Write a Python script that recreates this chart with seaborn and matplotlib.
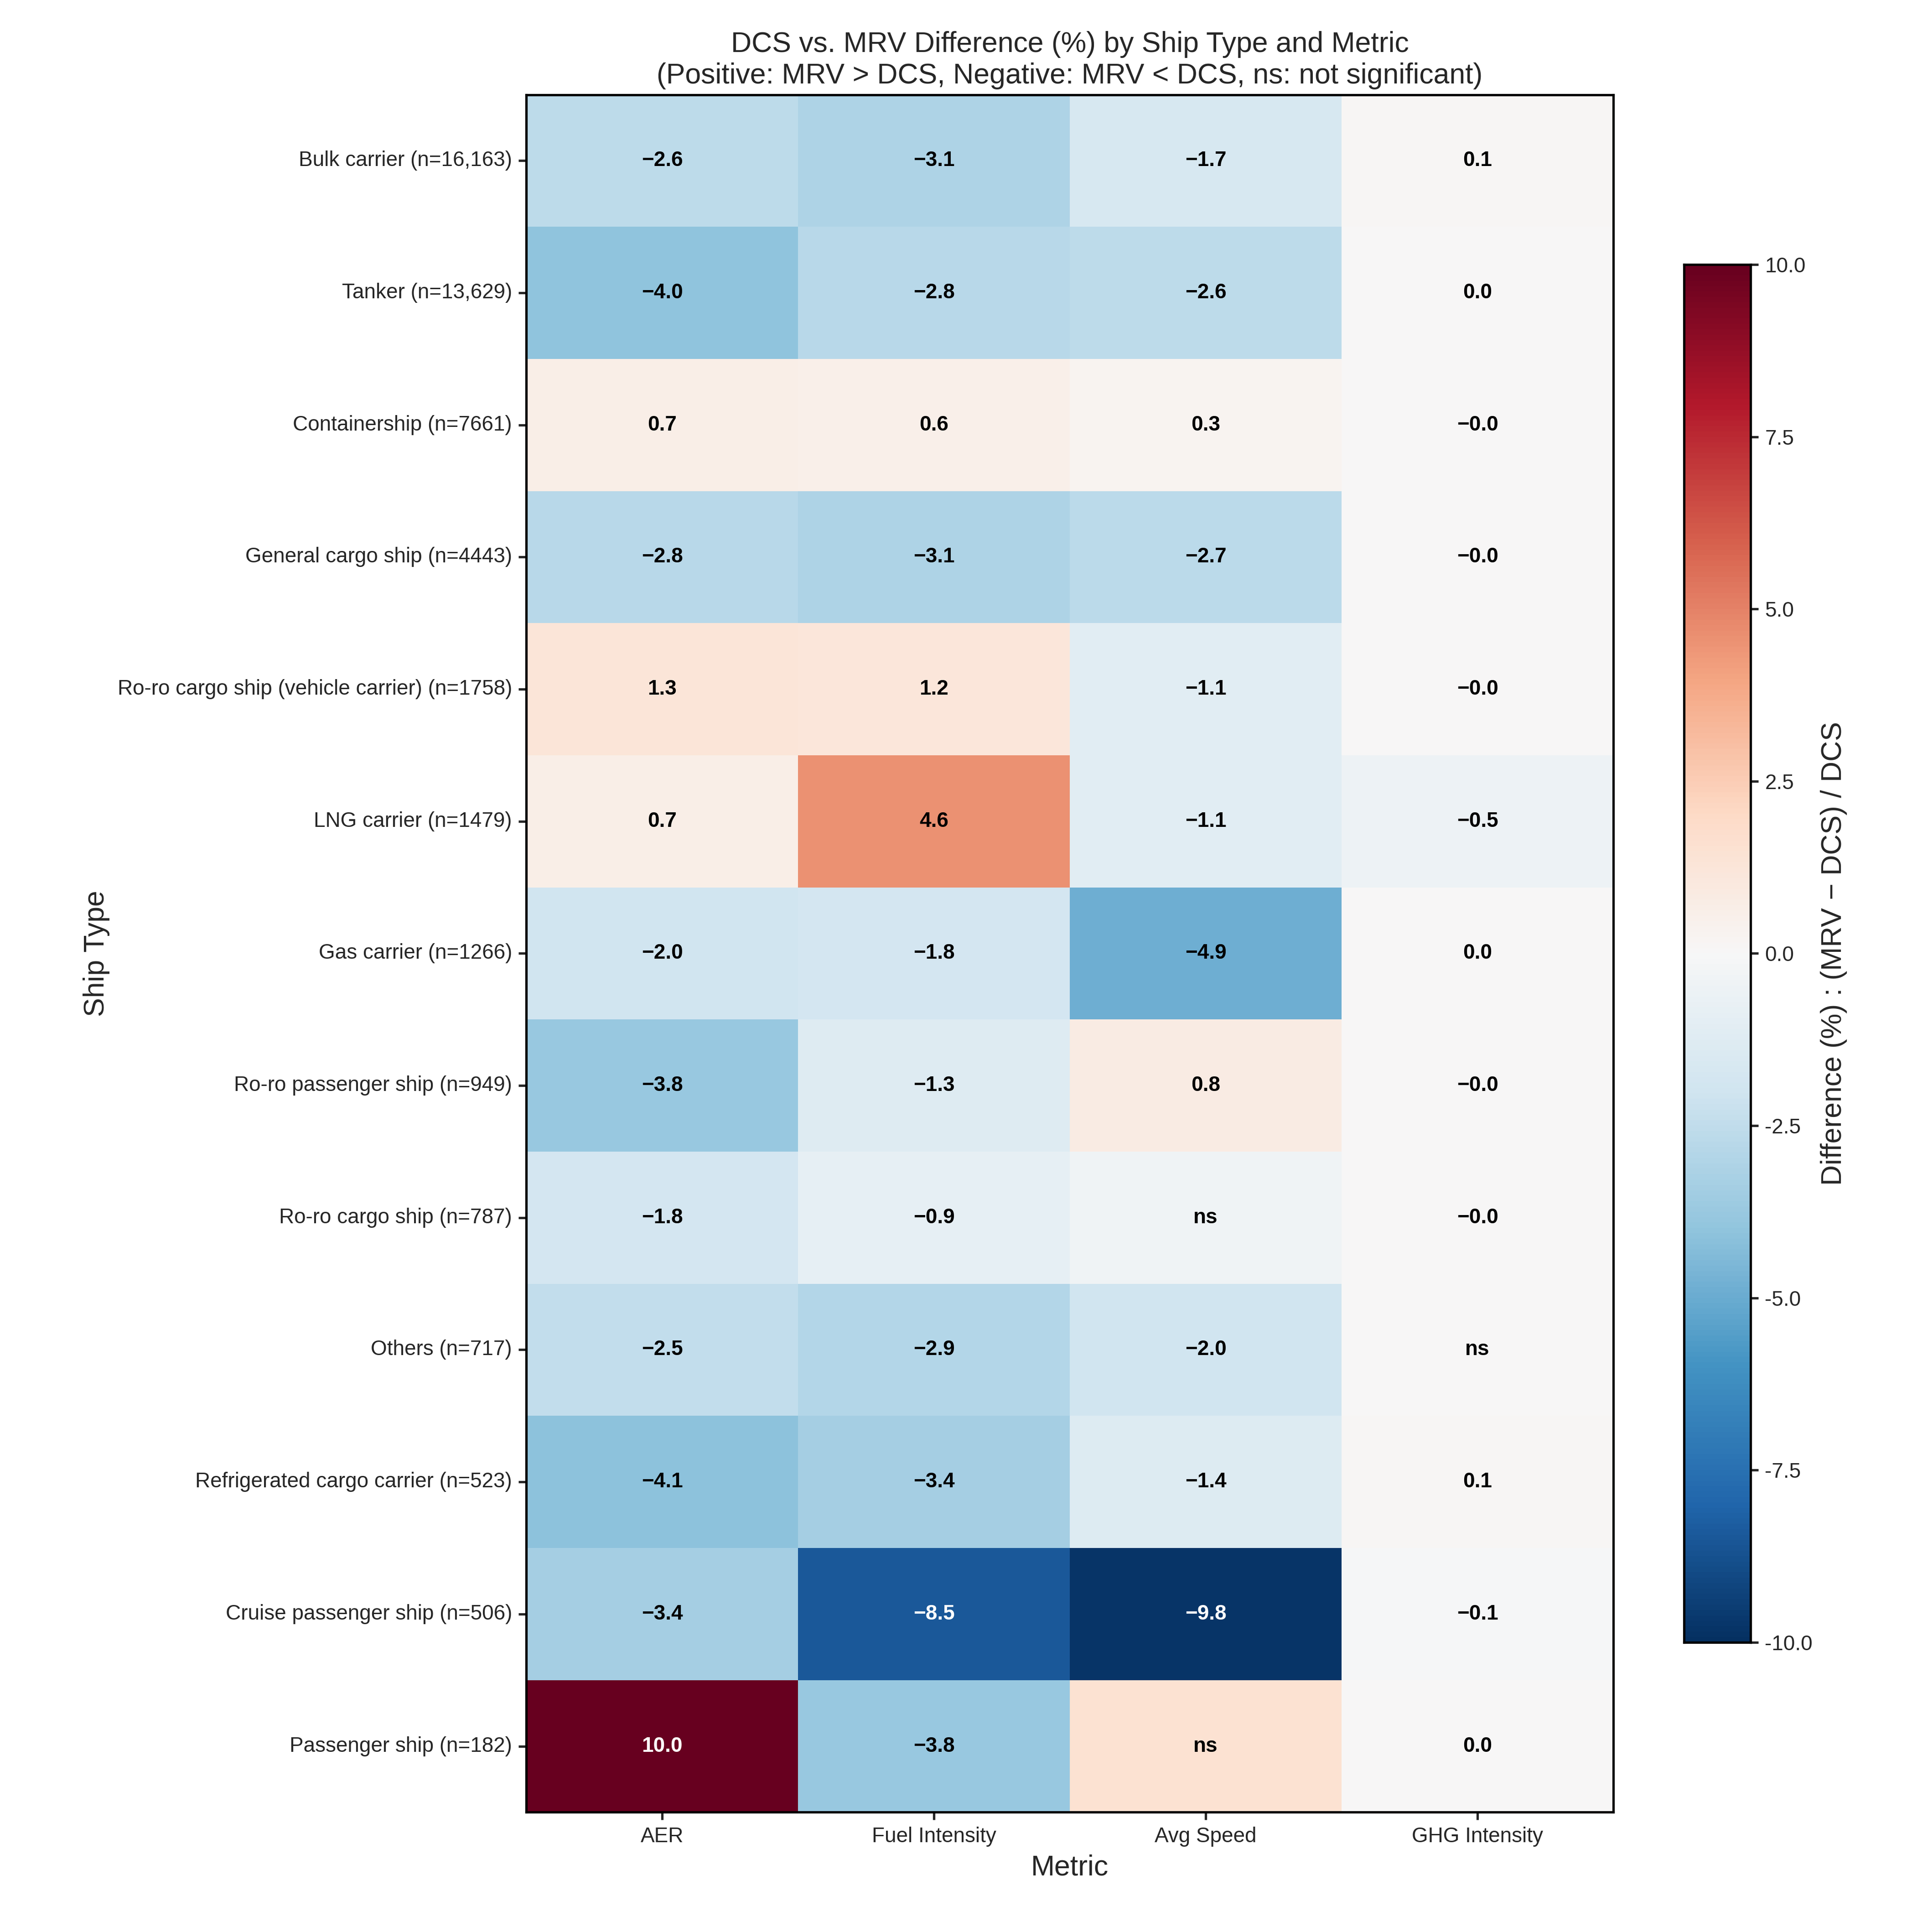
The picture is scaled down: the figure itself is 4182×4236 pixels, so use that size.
import numpy as np
import pandas as pd
import matplotlib
matplotlib.use("Agg")
import matplotlib.pyplot as plt
import seaborn as sns

ship_types = [
    "Bulk carrier (n=16,163)", "Tanker (n=13,629)", "Containership (n=7661)",
    "General cargo ship (n=4443)", "Ro-ro cargo ship (vehicle carrier) (n=1758)",
    "LNG carrier (n=1479)", "Gas carrier (n=1266)", "Ro-ro passenger ship (n=949)",
    "Ro-ro cargo ship (n=787)", "Others (n=717)", "Refrigerated cargo carrier (n=523)",
    "Cruise passenger ship (n=506)", "Passenger ship (n=182)",
]
metrics = ["AER", "Fuel Intensity", "Avg Speed", "GHG Intensity"]

aer = [-2.6, -4.0, 0.7, -2.8, 1.3, 0.7, -2.0, -3.8, -1.8, -2.5, -4.1, -3.4, 10.0]
fuel = [-3.1, -2.8, 0.6, -3.1, 1.2, 4.6, -1.8, -1.3, -0.9, -2.9, -3.4, -8.5, -3.8]
speed = [-1.7, -2.6, 0.3, -2.7, -1.1, -1.1, -4.9, 0.8, -0.4, -2.0, -1.4, -9.8, 1.5]
ghg = [0.1, 0.0, -0.0, -0.0, -0.0, -0.5, 0.0, -0.0, -0.0, 0.0, 0.1, -0.1, 0.0]

# cells shown as "ns" (row, column)
not_significant = [(8, 2), (9, 3), (12, 2)]

df = pd.DataFrame({"AER": aer, "Fuel Intensity": fuel, "Avg Speed": speed,
                   "GHG Intensity": ghg}, index=ship_types)[metrics]
labels = df.map(lambda v: f"{v:.1f}".replace("-", "\u2212")).values.astype(object)
for r, c in not_significant:
    labels[r, c] = "ns"

sns.set_theme(style="white")
plt.rcParams["font.family"] = ["Liberation Sans", "DejaVu Sans"]

fig = plt.figure(figsize=(13.94, 14.12), dpi=300)
ax = fig.add_axes([0.276, 0.062, 0.570, 0.889])
cax = fig.add_axes([0.883, 0.150, 0.035, 0.713])

sns.heatmap(df, cmap="RdBu_r", vmin=-10, vmax=10, center=0, annot=labels, fmt="",
            annot_kws={"fontsize": 11, "fontweight": "bold"}, ax=ax, cbar_ax=cax,
            cbar_kws={"ticks": np.arange(-10, 10.1, 2.5)})
for t in ax.texts:
    txt = t.get_text()
    if txt != "ns" and abs(float(txt.replace("\u2212", "-"))) >= 7:
        t.set_color("white")
    else:
        t.set_color("black")
for s in ax.spines.values():
    s.set_visible(True)
    s.set_color("black")
ax.set_title("DCS vs. MRV Difference (%) by Ship Type and Metric\n"
             "(Positive: MRV > DCS, Negative: MRV < DCS, ns: not significant)", fontsize=15)
ax.set_xlabel("Metric", fontsize=15)
ax.set_ylabel("Ship Type", fontsize=15)
ax.tick_params(axis="both", labelsize=11, length=4, left=True, bottom=True)
ax.set_yticklabels(ship_types, rotation=0)
ax.set_xticklabels(metrics, rotation=0)
cax.tick_params(labelsize=11, length=4, right=True)
cax.set_ylabel("Difference (%) : (MRV \u2212 DCS) / DCS", fontsize=15)
cax.yaxis.set_major_formatter(matplotlib.ticker.FormatStrFormatter("%.1f"))
for s in cax.spines.values():
    s.set_visible(True)
    s.set_color("black")

fig.savefig("out.png", dpi=300)
